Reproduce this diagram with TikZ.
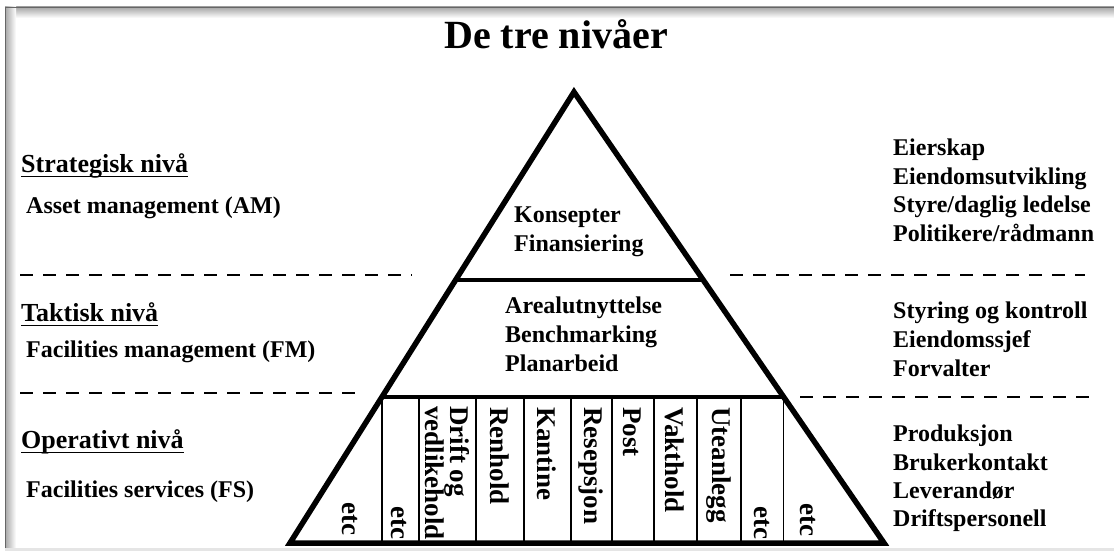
\documentclass[tikz,border=0pt]{standalone}
\usepackage{fontspec}
\setmainfont{Liberation Serif}
\usetikzlibrary{calc}
\begin{document}
\begin{tikzpicture}[x=1pt,y=-1pt,
  body/.style={font=\fontsize{24}{29}\selectfont\bfseries, inner sep=0pt, anchor=base west},
  head/.style={font=\fontsize{26}{30}\selectfont\bfseries, inner sep=0pt, anchor=base west},
  vlab/.style={font=\fontsize{27}{25}\selectfont\bfseries, inner sep=0pt, rotate=-90, anchor=west, align=left},
  elab/.style={font=\fontsize{27}{27}\selectfont\bfseries, inner sep=0pt, rotate=-90, anchor=east},
  edgeline/.style={line width=5.5pt, line join=miter},
  lvl/.style={line width=4.5pt},
  divider/.style={line width=1.6pt},
  sepline/.style={line width=1.6pt, dash pattern=on 13pt off 10pt},
  uline/.style={line width=1.8pt}]
\useasboundingbox (0,0) rectangle (1114,551);
\fill[white] (0,0) rectangle (1114,551);
% frame with shadow
\shade[top color=gray!70, bottom color=white] (6,7) rectangle (1114,18);
\shade[left color=gray!70, right color=white] (5,7) rectangle (16,551);
\draw[gray!80!black, line width=1.5pt] (5.5,551) -- (5.5,7.5) -- (1114,7.5);
\fill[gray!20] (5,548) rectangle (1114,551);

% title
\node[font=\fontsize{40}{44}\selectfont\bfseries, inner sep=0pt, anchor=base] (title) at (556,49) {De tre nivåer};

% pyramid geometry
\coordinate (apex) at (574,92);
\coordinate (bl) at (290,543);
\coordinate (br) at (884,543);
\coordinate (l1) at ($(apex)!0.41685!(bl)$);
\coordinate (r1) at ($(apex)!0.41685!(br)$);
\coordinate (l2) at ($(apex)!0.67627!(bl)$);
\coordinate (r2) at ($(apex)!0.67627!(br)$);

% dividers in the operative level
\draw[divider] (l2) -- (l2 |- bl);
\foreach \x in {419,476,524,571,612,654,697,741}
  \draw[divider] (\x,397) -- (\x,543);
\draw[divider] (r2) -- (r2 |- br);

% level lines
\draw[lvl] (l1) -- (r1);
\draw[lvl] (l2) -- (r2);
% triangle
\draw[edgeline] (apex) -- (bl) -- (br) -- cycle;

% dashed separators
\draw[sepline] (20,275) -- (412,275);
\draw[sepline] (730,275) -- (1085,275);
\draw[sepline] (20,393) -- (358,393);
\draw[sepline] (800,397) -- (1090,397);

% left labels
\node[head] (sh) at (21,172) {Strategisk nivå};
\draw[uline] ([yshift=-4.5pt]sh.base west) -- ([yshift=-4.5pt]sh.base east);
\node[body] (sa) at (26,213) {Asset management (AM)};
\node[head] (th) at (21,321) {Taktisk nivå};
\draw[uline] ([yshift=-4.5pt]th.base west) -- ([yshift=-4.5pt]th.base east);
\node[body] (ta) at (26,357) {Facilities management (FM)};
\node[head] (oh) at (21,448) {Operativt nivå};
\draw[uline] ([yshift=-4.5pt]oh.base west) -- ([yshift=-4.5pt]oh.base east);
\node[body] (oa) at (26,497) {Facilities services (FS)};

% centre labels
\node[body] (c1) at (514,222) {Konsepter};
\node[body] (c2) at (514,251) {Finansiering};
\node[body] (c3) at (505,313) {Arealutnyttelse};
\node[body] (c4) at (505,342) {Benchmarking};
\node[body] (c5) at (505,371) {Planarbeid};

% right labels
\node[body] (r11) at (893,155) {Eierskap};
\node[body] (r12) at (893,184) {Eiendomsutvikling};
\node[body] (r13) at (893,212) {Styre/daglig ledelse};
\node[body] (r14) at (893,241) {Politikere/rådmann};
\node[body] (r21) at (893,318) {Styring og kontroll};
\node[body] (r22) at (893,347) {Eiendomssjef};
\node[body] (r23) at (893,376) {Forvalter};
\node[body] (r31) at (893,441) {Produksjon};
\node[body] (r32) at (893,470) {Brukerkontakt};
\node[body] (r33) at (893,498) {Leverandør};
\node[body] (r34) at (893,526) {Driftspersonell};

% rotated service labels
\node[elab] (e1) at (350,536) {etc};
\node[elab] (e2) at (399,540) {etc};
\node[vlab] (v1) at (447,406) {Drift og\\vedlikehold};
\node[vlab] (v2) at (500,407) {Renhold};
\node[vlab] (v3) at (547,407) {Kantine};
\node[vlab] (v4) at (591,407) {Resepsjon};
\node[vlab] (v5) at (632,407) {Post};
\node[vlab] (v6) at (675,407) {Vakthold};
\node[vlab] (v7) at (719,407) {Uteanlegg};
\node[elab] (e3) at (762,540) {etc};
\node[elab] (e4) at (808,537) {etc};
\end{tikzpicture}
\end{document}
